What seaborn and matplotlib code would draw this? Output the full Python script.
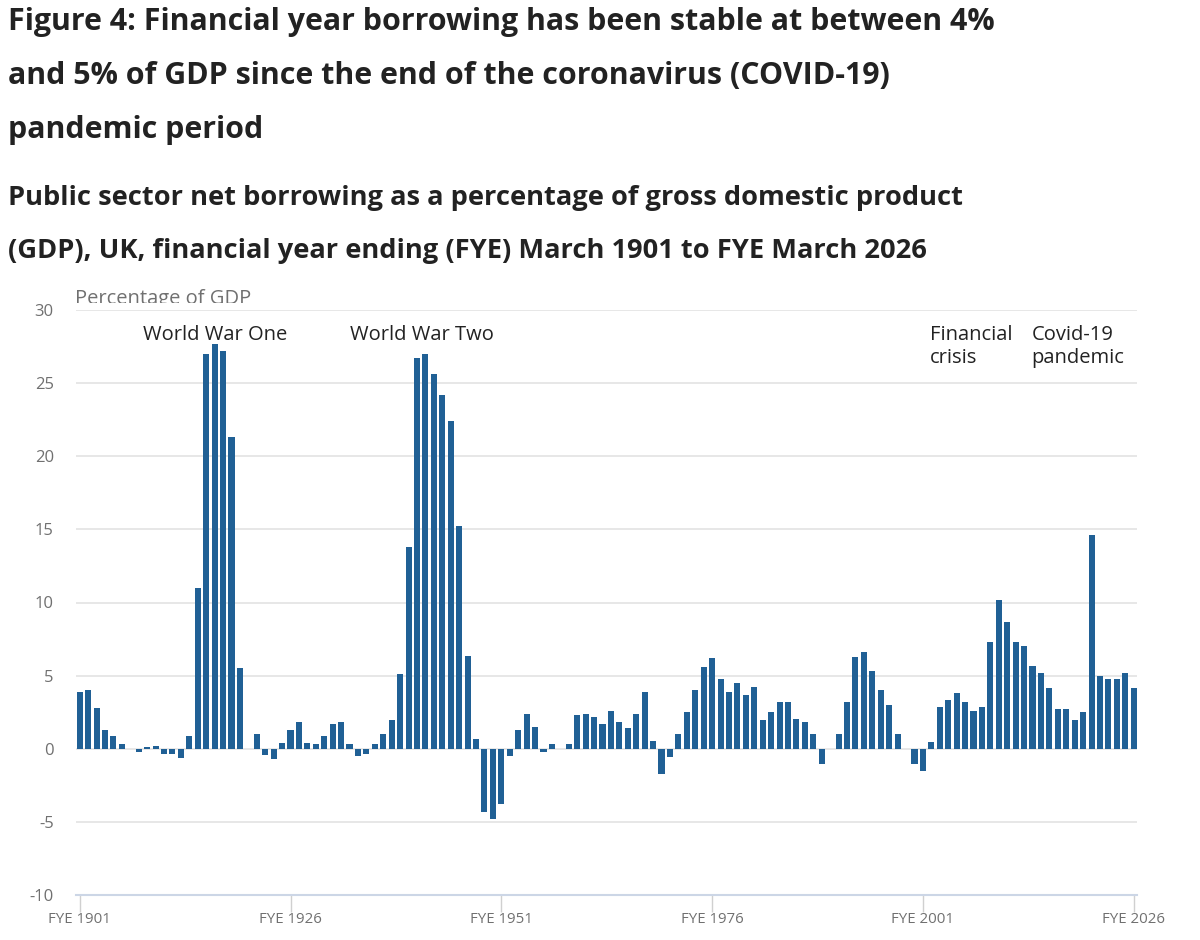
import matplotlib
matplotlib.use("Agg")
import matplotlib.pyplot as plt
from matplotlib.transforms import Bbox, TransformedBbox
import seaborn as sns
import pandas as pd

years = list(range(1901, 2027))
borrowing = [
    3.9, 4.0, 2.8, 1.3, 0.9, 0.3, 0.0, -0.25, 0.1, 0.2,          # 1901-1910
    -0.35, -0.35, -0.6, 0.9, 11.0, 27.0, 27.7, 27.2, 21.3, 5.5,  # 1911-1920
    0.0, 1.0, -0.4, -0.7, 0.4, 1.3, 1.8, 0.4, 0.3, 0.9,          # 1921-1930
    1.7, 1.8, 0.3, -0.5, -0.35, 0.3, 1.0, 2.0, 5.1, 13.8,        # 1931-1940
    26.7, 27.0, 25.6, 24.2, 22.4, 15.2, 6.35, 0.65, -4.3, -4.8,  # 1941-1950
    -3.75, -0.5, 1.25, 2.4, 1.5, -0.25, 0.3, 0.0, 0.3, 2.3,      # 1951-1960
    2.4, 2.15, 1.7, 2.6, 1.8, 1.45, 2.4, 3.9, 0.5, -1.75,        # 1961-1970
    -0.55, 1.0, 2.5, 4.0, 5.6, 6.2, 4.8, 3.9, 4.5, 3.7,          # 1971-1980
    4.25, 1.95, 2.5, 3.2, 3.2, 2.05, 1.8, 1.0, -1.05, 0.0,       # 1981-1990
    1.0, 3.2, 6.25, 6.6, 5.3, 4.0, 3.0, 1.0, 0.0, -1.05,         # 1991-2000
    -1.5, 0.45, 2.85, 3.35, 3.8, 3.2, 2.6, 2.85, 7.3, 10.2,      # 2001-2010
    8.65, 7.3, 7.05, 5.65, 5.2, 4.15, 2.75, 2.75, 1.95, 2.5,     # 2011-2020
    14.6, 5.0, 4.75, 4.75, 5.2, 4.15,                            # 2021-2026
]
tick_years = [1901, 1926, 1951, 1976, 2001, 2026]
tick_labels = ["FYE 1901", "FYE 1926", "FYE 1951", "FYE 1976", "FYE 2001", "FYE 2026"]
y_ticks = [30, 25, 20, 15, 10, 5, 0, -5, -10]
annotations = [
    ("World War One", 1917.05, "center"),
    ("World War Two", 1941.6, "center"),
    ("Financial\ncrisis", 2001.8, "left"),
    ("Covid-19\npandemic", 2013.9, "left"),
]
title_lines = [
    "Figure 4: Financial year borrowing has been stable at between 4%",
    "and 5% of GDP since the end of the coronavirus (COVID-19)",
    "pandemic period",
]
subtitle_lines = [
    "Public sector net borrowing as a percentage of gross domestic product",
    "(GDP), UK, financial year ending (FYE) March 1901 to FYE March 2026",
]

df = pd.DataFrame({"year": years, "value": borrowing})

sns.set_theme(style="white")
plt.rcParams["font.family"] = ["Open Sans", "DejaVu Sans"]

W, H = 1200, 940
fig = plt.figure(figsize=(12, 9.4), dpi=100)

ax_left, ax_right, ax_top, ax_bottom = 76, 1137, 310, 895
ax = fig.add_axes([ax_left / W, 1 - ax_bottom / H, (ax_right - ax_left) / W, (ax_bottom - ax_top) / H])

sns.barplot(data=df, x="year", y="value", native_scale=True, color="#206095",
            saturation=1, width=0.72, linewidth=0, ax=ax)

ax.set_xlim(1900.56, 2026.39)
ax.set_ylim(-10, 30)
ax.set_yticks(y_ticks)
ax.set_yticklabels([str(t) for t in y_ticks], color="#707070", fontsize=12)
ax.set_xticks(tick_years)
ax.set_xticklabels(tick_labels, color="#707070", fontsize=10.8)
ax.set_xlabel("")
ax.set_ylabel("")

for t in y_ticks:
    if t != -10:
        ax.axhline(t, color="#e3e3e3", linewidth=1.2, zorder=0)

for s in ["top", "right", "left"]:
    ax.spines[s].set_visible(False)
ax.spines["bottom"].set_color("#ccd6e6")
ax.spines["bottom"].set_linewidth(1.5)
ax.tick_params(axis="x", length=12, width=1, color="#d0d0d0", pad=0, direction="out", bottom=True)
ax.tick_params(axis="y", length=0, pad=16)

for text, xpos, ha in annotations:
    ax.text(xpos, 29.0, text, ha=ha, va="top", fontsize=14.5, color="#222222",
            linespacing=1.2)

# axis unit label, partly hidden under the plot's top edge as in the original
unit = fig.text(75 / W, 1 - 289 / H, "Percentage of GDP", fontsize=14.5, color="#707070",
                ha="left", va="top")
unit.set_clip_box(TransformedBbox(Bbox([[0, 1 - 303 / H], [0.5, 1]]), fig.transFigure))
unit.set_clip_on(True)

for i, line in enumerate(title_lines):
    fig.text(8 / W, 1 - (22 + 54 * i) / H, line, fontsize=21.9, fontweight="bold",
             color="#222222", ha="left", va="center")
for i, line in enumerate(subtitle_lines):
    fig.text(8 / W, 1 - (198 + 53 * i) / H, line, fontsize=19.6, fontweight="bold",
             color="#222222", ha="left", va="center")

fig.savefig("out.png", dpi=100, facecolor="white")
